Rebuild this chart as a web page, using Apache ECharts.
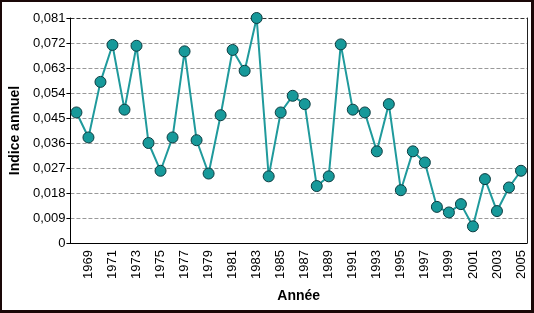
<!DOCTYPE html>
<html>
<head>
<meta charset="utf-8">
<script src="https://cdn.jsdelivr.net/npm/echarts@6/dist/echarts.min.js"></script>
<style>
html,body{margin:0;padding:0;background:#fff;}
#wrap{width:534px;height:313px;box-sizing:border-box;border:2px solid #1a0808;border-right-width:3px;border-bottom-width:3px;position:relative;overflow:hidden;}
#c{position:absolute;left:-2px;top:-2px;width:534px;height:313px;}
</style>
</head>
<body>
<div id="wrap"><div id="c"></div></div>
<script>
const years = ['1968','1969','1970','1971','1972','1973','1974','1975','1976','1977','1978','1979','1980','1981','1982','1983','1984','1985','1986','1987','1988','1989','1990','1991','1992','1993','1994','1995','1996','1997','1998','1999','2000','2001','2002','2003','2004','2005'];
const indiceAnnuel = [0.047,0.038,0.058,0.0713,0.048,0.071,0.036,0.026,0.038,0.069,0.037,0.025,0.046,0.0695,0.062,0.081,0.024,0.047,0.053,0.050,0.0205,0.024,0.0715,0.048,0.047,0.033,0.050,0.019,0.033,0.029,0.013,0.011,0.014,0.006,0.023,0.0115,0.020,0.026];
const yTicks = {min:0, max:0.081, step:0.009};
const xName = 'Année';
const yName = 'Indice annuel';

const chart = echarts.init(document.getElementById('c'), null, {renderer:'canvas'});
const font = 'Liberation Sans, Arial, sans-serif';
chart.setOption({
  animation:false,
  backgroundColor:'transparent',
  grid:{left:60, top:18, right:7, bottom:70, containLabel:false},
  xAxis:{
    type:'category',
    data:years,
    boundaryGap:true,
    name:xName,
    nameLocation:'middle',
    nameGap:46,
    nameTextStyle:{fontFamily:font,fontSize:14,fontWeight:'bold',color:'#000'},
    axisLine:{lineStyle:{color:'#000',width:1}},
    axisTick:{alignWithLabel:true,length:5,lineStyle:{color:'#000'},interval:function(i){return i%2===1;}},
    axisLabel:{rotate:90,margin:7,fontFamily:font,fontSize:13,color:'#000',interval:function(i){return i%2===1;}},
    splitLine:{show:false}
  },
  yAxis:[{
    type:'value',
    min:yTicks.min,
    max:yTicks.max,
    interval:yTicks.step,
    name:yName,
    nameLocation:'middle',
    nameGap:43,
    nameTextStyle:{fontFamily:font,fontSize:14,fontWeight:'bold',color:'#000'},
    axisLine:{show:true,lineStyle:{color:'#000',width:1}},
    axisTick:{show:true,length:4,lineStyle:{color:'#000'}},
    axisLabel:{margin:5,fontFamily:font,fontSize:13,color:'#000',
      formatter:function(v){ if(v===0) return '0'; return v.toFixed(3).replace('.',','); }},
    splitLine:{show:true,lineStyle:{color:['#999','#999','#999','#999','#999','#999','#999','#999','#999','#333'],type:[4,2],width:1}}
  },{
    type:'value',
    position:'right',
    min:yTicks.min,
    max:yTicks.max,
    interval:yTicks.step,
    axisLine:{show:true,lineStyle:{color:'#222',width:1}},
    axisTick:{show:false},
    axisLabel:{show:false},
    splitLine:{show:false}
  }],
  series:[{
    type:'line',
    data:indiceAnnuel,
    yAxisIndex:0,
    symbol:'circle',
    symbolSize:11,
    showAllSymbol:true,
    lineStyle:{color:'#1f9a9c',width:2},
    itemStyle:{color:'#17999a',borderColor:'#0c3c40',borderWidth:1},
    clip:false
  }]
});
</script>
</body>
</html>
